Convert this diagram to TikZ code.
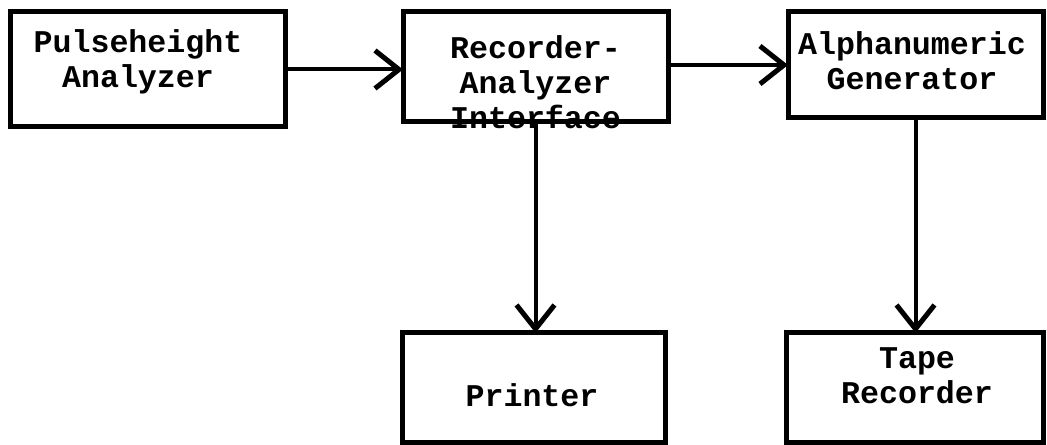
\documentclass[tikz,border=0pt]{standalone}
\usepackage{fontspec}
\setmonofont{Liberation Mono}
\usetikzlibrary{arrows.meta}

\begin{document}
\begin{tikzpicture}[x=0.1mm,y=-0.1mm,
  unit/.style={draw=black,line width=0.5mm,inner sep=0pt,outer sep=0pt},
  unittext/.style={font=\ttfamily\bfseries\fontsize{9}{10}\selectfont,align=center,inner sep=0pt},
  flow/.style={line width=0.4mm,-{Straight Barb[length=2.4mm,width=3.8mm,line width=0.5mm]}}]
\useasboundingbox (0,0) rectangle (1047,445);
\node [unit,minimum width=27.5mm,minimum height=11.5mm,
  label={[unittext,xshift=-0.95mm,yshift=0.8mm]center:Pulseheight\\Analyzer}] (pha) at (147.5,69.5) {};
\node [unit,minimum width=26.5mm,minimum height=11mm,
  label={[unittext,yshift=-1.5mm]center:Recorder-\\Analyzer\\Interface}] (rai) at (535.5,67) {};
\node [unit,minimum width=25.5mm,minimum height=10.6mm,
  label={[unittext,xshift=-0.35mm,yshift=0.4mm]center:Alphanumeric\\Generator}] (ang) at (915.5,65) {};
\node [unit,minimum width=26.3mm,minimum height=11mm,
  label={[unittext,xshift=-0.2mm,yshift=-0.7mm]center:Printer}] (prn) at (534,388) {};
\node [unit,minimum width=25.7mm,minimum height=11mm,
  label={[unittext,xshift=0.2mm,yshift=1.2mm]center:Tape\\Recorder}] (tape) at (915,388) {};
\draw [flow] (pha.east) -- (pha.east -| rai.west);
\draw [flow] (ang.west -| rai.east) -- (ang.west);
\draw [flow] (rai.south) -- (rai.south |- prn.north);
\draw [flow] (ang.south) -- (ang.south |- tape.north);
\end{tikzpicture}
\end{document}
